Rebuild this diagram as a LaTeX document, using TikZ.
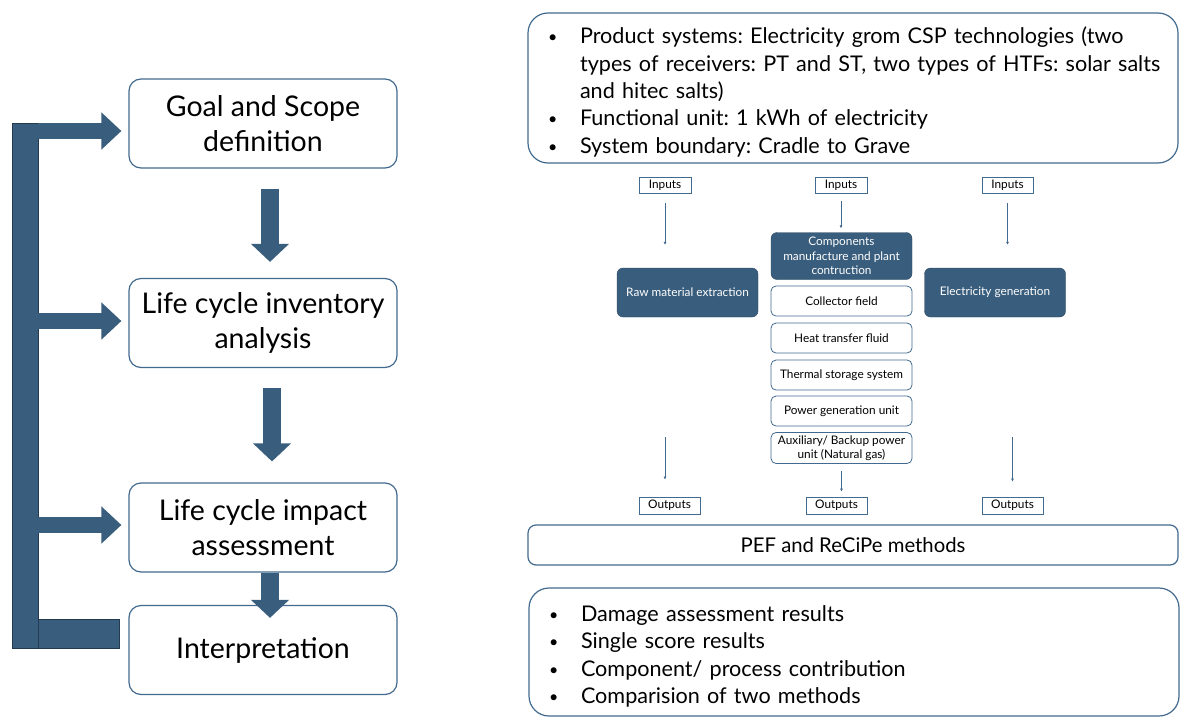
\documentclass[tikz,border=0pt]{standalone}
\usepackage{fontspec}
\setmainfont{Lato}
\usetikzlibrary{positioning,arrows.meta,calc}
\definecolor{edgeblue}{RGB}{66,106,142}
\definecolor{darkblue}{RGB}{57,93,124}
\definecolor{arrowline}{RGB}{35,58,80}
\newcommand{\dotmark}{{\fontsize{16}{16}\selectfont\raisebox{1pt}{\textbullet}}}
\frenchspacing

\begin{document}
\begin{tikzpicture}[x=1pt, y=-1pt,
		% Box styles
		stage/.style={rectangle, rounded corners=12pt, minimum width=268pt, minimum height=89pt,
			draw=edgeblue, line width=1.2pt, fill=white, align=center, font=\fontsize{28.5}{35}\selectfont},
		infobox/.style={rectangle, rounded corners=20pt, draw=edgeblue, line width=1.2pt,
			text width=610pt, inner xsep=20pt, inner ysep=0pt, font=\fontsize{21.6}{27.4}\selectfont},
		methodbox/.style={rectangle, rounded corners=8pt, draw=edgeblue, line width=1.2pt,
			minimum width=650pt, minimum height=40pt, font=\fontsize{20.3}{24}\selectfont},
		process/.style={rectangle, rounded corners=6pt, minimum width=141pt, minimum height=48pt,
			fill=darkblue, draw=darkblue!80!black, text=white, align=center, font=\fontsize{11.8}{14.5}\selectfont},
		part/.style={rectangle, rounded corners=5pt, minimum width=141pt, minimum height=30pt,
			draw=edgeblue, line width=0.8pt, fill=white, align=center, font=\fontsize{11.8}{13.5}\selectfont},
		flowbox/.style={rectangle, draw=edgeblue, line width=0.8pt, inner sep=0pt, minimum height=16pt,
			font=\fontsize{11.8}{13}\selectfont},
		loopbar/.style={rectangle, fill=darkblue, draw=arrowline, line width=0.6pt, inner sep=0pt,
			minimum width=26pt, minimum height=525pt},
		% Arrow styles
		flow/.style={-{Latex[length=3pt,width=3pt]}, edgeblue, line width=0.8pt},
		bigarrow/.style={-{Triangle[width=37pt,length=18pt]}, line width=18pt, darkblue},
		looparrow/.style={-{Triangle[width=36pt,length=20pt]}, line width=16pt, darkblue, shorten >=7pt}
		]
		\useasboundingbox (0,0) rectangle (1180,717);
		
		% LCA phases
		\node[stage] (goal) at (263,123.5) {Goal and Scope\\definition};
		\node[stage] (lci) at (263,323) {Life cycle inventory\\analysis};
		\node[stage] (lcia) at (263,527.5) {Life cycle impact\\assessment};
		\node[stage] (interp) at (263,650) {Interpretation};
		
		% Iteration loop
		\node[loopbar] (loop) at (25,385.5) {};
		\draw[looparrow] ($(loop.east |- goal.west)+(0,7.5)$) -- ($(goal.west)+(0,7.5)$);
		\draw[looparrow] ($(loop.east |- lci.west)+(0,-2)$) -- ($(lci.west)+(0,-2)$);
		\draw[looparrow] ($(loop.east |- lcia.west)+(0,-2.5)$) -- ($(lcia.west)+(0,-2.5)$);
		\fill[darkblue, draw=arrowline, line width=0.6pt] (loop.south east) rectangle ($(interp.west)+(-9,-31)$);
		
		% Phase arrows
		\draw[bigarrow] ($(goal.south)+(7,20)$) -- ($(lci.north)+(7,-16)$);
		\draw[bigarrow] ($(lci.south)+(9,20)$) -- ($(lcia.north)+(9,-21)$);
		\draw[bigarrow] ($(lcia.south)+(7,0)$) -- ($(interp.north)+(7,13)$);
		
		% Goal and scope
		\node[infobox, minimum height=150pt] (scope) at (853,88) {%
			\raisebox{-5pt}[\height][\depth]{\begin{tabular}{@{}p{32pt}@{}l@{}}
				\dotmark & Product systems: Electricity grom CSP technologies (two\\
				& types of receivers: PT and ST, two types of HTFs: solar salts\\
				& and hitec salts)\\
				\dotmark & Functional unit: 1 kWh of electricity\\
				\dotmark & System boundary: Cradle to Grave
		\end{tabular}}};
		
		% Inventory: inputs
		\node[flowbox, minimum width=52pt] (in_raw) at (665,185.5) {Inputs};
		\node[flowbox, minimum width=52pt] (in_comp) at (841,185.5) {Inputs};
		\node[flowbox, minimum width=51pt] (in_elec) at (1007.5,185.5) {Inputs};
		
		% Inventory: processes
		\node[process, minimum height=49pt] (raw_ext) at (687.5,292.5) {Raw material extraction};
		\node[process, minimum height=47pt] (comp_mfg) at (841.5,256) {Components\\manufacture and plant\\contruction};
		\node[process, minimum height=49pt] (elec_gen) at (995,292.5) {Electricity generation};
		
		\node[part] (collector) at (841.5,301) {Collector field};
		\node[part] (htf) at (841.5,338) {Heat transfer fluid};
		\node[part] (storage) at (841.5,375) {Thermal storage system};
		\node[part] (power) at (841.5,411) {Power generation unit};
		\node[part, minimum height=31pt] (backup) at (841.5,448) {Auxiliary/ Backup power\\unit (Natural gas)};
		
		% Inventory: outputs
		\node[flowbox, minimum width=61pt, minimum height=17pt] (out_raw) at (669.5,505.5) {Outputs};
		\node[flowbox, minimum width=61pt, minimum height=17pt] (out_comp) at (836.5,505.5) {Outputs};
		\node[flowbox, minimum width=61pt, minimum height=17pt] (out_elec) at (1012.5,505.5) {Outputs};
		
		\draw[flow, shorten <=9pt, shorten >=23pt] (in_raw.south) -- (in_raw.south |- raw_ext.north);
		\draw[flow, shorten <=7pt, shorten >=4pt] (in_comp.south) -- (in_comp.south |- comp_mfg.north);
		\draw[flow, shorten <=9pt, shorten >=23pt] (in_elec.south) -- (in_elec.south |- elec_gen.north);
		\draw[flow, shorten <=120pt, shorten >=17pt] (in_raw |- raw_ext.south) -- (in_raw |- out_raw.north);
		\draw[flow, shorten <=7pt, shorten >=5pt] (backup.south) -- (backup.south |- out_comp.north);
		\draw[flow, shorten <=120pt, shorten >=15pt] (out_elec.north |- elec_gen.south) -- (out_elec.north);
		
		% Impact assessment
		\node[methodbox] (methods) at (853,545) {PEF and ReCiPe methods};
		
		% Interpretation
		\node[infobox, minimum height=128pt] (results) at (854,652) {%
			\raisebox{-5pt}[\height][\depth]{\begin{tabular}{@{}p{32pt}@{}l@{}}
				\dotmark & Damage assessment results\\
				\dotmark & Single score results\\
				\dotmark & Component/ process contribution\\
				\dotmark & Comparision of two methods
		\end{tabular}}};
		
	\end{tikzpicture}
\end{document}
